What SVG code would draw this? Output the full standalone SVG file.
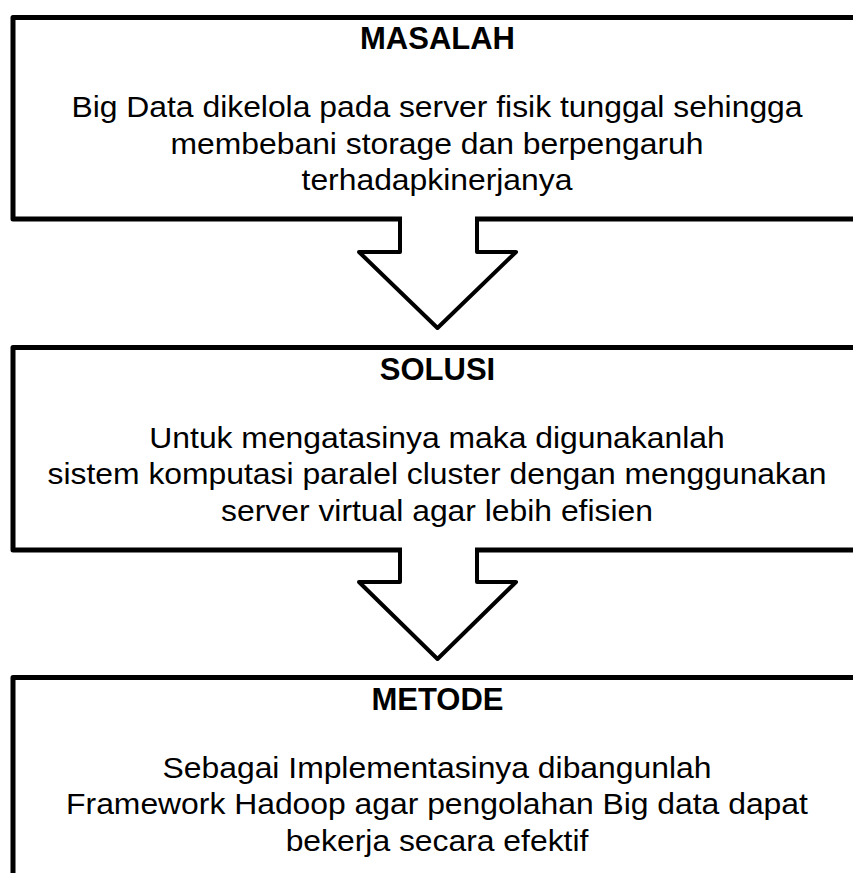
<svg xmlns="http://www.w3.org/2000/svg" width="853" height="873" viewBox="0 0 853 873">
<style>
.box{fill:#fff;stroke:#000;stroke-width:5;stroke-linejoin:round}
.title{font-family:"Liberation Sans",Arial,sans-serif;font-weight:bold;font-size:31px;text-anchor:middle;fill:#000}
.body{font-family:"Liberation Sans",Arial,sans-serif;font-size:29.5px;text-anchor:middle;fill:#000}
.arrow{fill:#fff;stroke:#000;stroke-width:4;stroke-linejoin:round}
.gap{fill:#fff;stroke:none}
</style>
<rect width="853" height="873" fill="#fff"/>
<g id="masalah">
<rect class="box" x="13" y="17.5" width="900" height="201.5"/>
<text class="title" x="437.5" y="49">MASALAH</text>
<g transform="translate(437,0) scale(1.08,1) translate(-437,0)">
<text class="body" x="437" y="117.5">Big Data dikelola pada server fisik tunggal sehingga</text>
<text class="body" x="437" y="154">membebani storage dan berpengaruh</text>
<text class="body" x="437" y="190.5">terhadapkinerjanya</text>
</g>
</g>
<g id="solusi">
<rect class="box" x="13" y="347.5" width="900" height="202.5"/>
<text class="title" x="437.5" y="380">SOLUSI</text>
<g transform="translate(437,0) scale(1.08,1) translate(-437,0)">
<text class="body" x="437" y="448">Untuk mengatasinya maka digunakanlah</text>
<text class="body" x="437" y="484.5">sistem komputasi paralel cluster dengan menggunakan</text>
<text class="body" x="437" y="521">server virtual agar lebih efisien</text>
</g>
</g>
<g id="metode">
<rect class="box" x="13" y="677.5" width="900" height="300"/>
<text class="title" x="437.5" y="710">METODE</text>
<g transform="translate(437,0) scale(1.08,1) translate(-437,0)">
<text class="body" x="437" y="778">Sebagai Implementasinya dibangunlah</text>
<text class="body" x="437" y="814.5">Framework Hadoop agar pengolahan Big data dapat</text>
<text class="body" x="437" y="851">bekerja secara efektif</text>
</g>
</g>
<g id="connectors">
<rect class="gap" x="402" y="214" width="73" height="10"/>
<polyline class="arrow" points="400,219 400,252 359,252 437.5,328 516,252 477,252 477,219"/>
<rect class="gap" x="402" y="545" width="73" height="10"/>
<polyline class="arrow" points="400,550 400,582 359,582 437.5,659 516,582 477,582 477,550"/>
</g>
</svg>
